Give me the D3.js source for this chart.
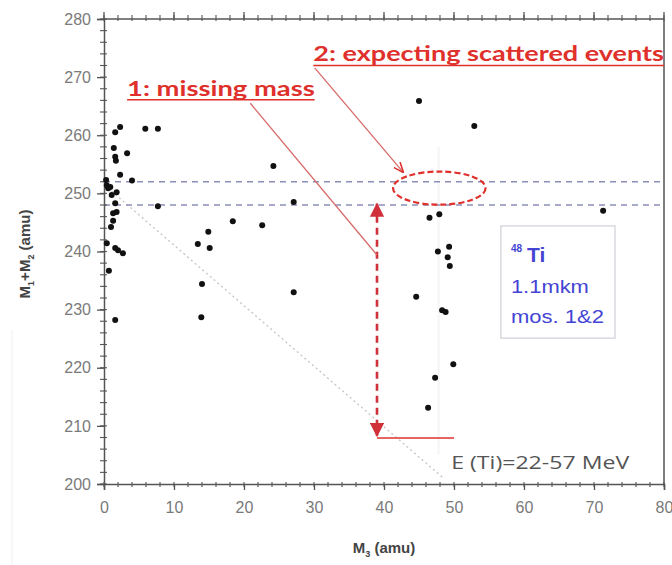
<!DOCTYPE html>
<html><head><meta charset="utf-8">
<script src="https://cdn.jsdelivr.net/npm/d3@7"></script>
<style>
html,body{margin:0;padding:0;background:#fff;}
svg{display:block;}
</style></head>
<body>
<svg id="c" width="672" height="565"></svg>
<script>
// ---- data ----
const m3 = [1.6,2.3,5.9,7.7,1.4,1.6,1.7,3.3,2.3,4.0,0.4,0.6,1.8,1.1,1.6,7.7,1.8,1.3,1.3,1.0,0.4,1.6,2.0,2.7,0.7,1.6,0.3,0.9,
  24.2,27.1,18.4,22.6,14.9,13.4,15.1,14.0,27.1,13.9,
  45.0,52.9,46.5,47.9,71.3,47.7,49.3,49.1,49.4,44.6,48.3,48.8,49.9,47.3,46.3];
const msum = [260.5,261.4,261.1,261.1,257.8,256.3,255.6,256.9,253.2,252.2,251.4,250.9,250.2,249.7,248.3,247.8,246.8,246.6,245.3,244.2,241.4,240.6,240.2,239.7,236.7,228.2,252.3,251.1,
  254.7,248.5,245.2,244.5,243.4,241.3,240.6,234.4,233.0,228.7,
  265.9,261.6,245.8,246.4,247.0,240.0,240.8,239.0,237.5,232.2,229.9,229.6,220.6,218.3,213.1];
const xTicks = [0,10,20,30,40,50,60,70,80];
const yTicks = [200,210,220,230,240,250,260,270,280];
const bandLines = [248,252];
const kinLine = [[0,251.5],[48.5,201]];

const svg = d3.select("#c");
const x = d3.scaleLinear().domain([0,80]).range([104,664]);
const y = d3.scaleLinear().domain([200,280]).range([484,19]);

// faint frame line at the left
svg.append("line").attr("x1",12).attr("x2",12).attr("y1",330).attr("y2",565)
  .attr("stroke","#f0f0f0").attr("stroke-width",1);

// kinematic dotted line
svg.append("line")
  .attr("x1",x(kinLine[0][0])).attr("y1",y(kinLine[0][1]))
  .attr("x2",x(kinLine[1][0])).attr("y2",y(kinLine[1][1]))
  .attr("stroke","#c4c4c4").attr("stroke-width",1.3).attr("stroke-dasharray","2,3");

// faint vertical guide
svg.append("line").attr("x1",x(47.8)).attr("x2",x(47.8)).attr("y1",y(258)).attr("y2",y(205))
  .attr("stroke","#f5f5f5").attr("stroke-width",2);

// dashed horizontal band lines
svg.selectAll("line.band").data(bandLines).join("line").attr("class","band")
  .attr("x1",x(0)).attr("x2",x(79.5)).attr("y1",d=>y(d)).attr("y2",d=>y(d))
  .attr("stroke","#8a8fb8").attr("stroke-width",1.3).attr("stroke-dasharray","6,5");

// axes frame
const axCol = "#555";
svg.append("line").attr("x1",x(0)).attr("x2",x(80)).attr("y1",y(280)).attr("y2",y(280)).attr("stroke",axCol).attr("stroke-width",1.5);
svg.append("line").attr("x1",x(80)).attr("x2",x(80)).attr("y1",y(280)).attr("y2",y(200)).attr("stroke",axCol).attr("stroke-width",1.5);

const xMinor = d3.range(0,80.1,2);
const yMinor = d3.range(200,280.1,2);

// bottom axis
const gx = svg.append("g").attr("transform",`translate(0,${y(200)})`)
  .call(d3.axisBottom(x).tickValues(xTicks).tickSize(6).tickPadding(12).tickFormat(d3.format("d")));
// left axis
const gy = svg.append("g").attr("transform",`translate(${x(0)},0)`)
  .call(d3.axisLeft(y).tickValues(yTicks).tickSize(7).tickPadding(6).tickFormat(d3.format("d")));
[gx,gy].forEach(g=>{
  g.select(".domain").attr("stroke",axCol).attr("stroke-width",1.5);
  g.selectAll(".tick line").attr("stroke",axCol).attr("stroke-width",1.3);
  g.selectAll(".tick text").attr("fill","#7a7a7a").attr("font-family","Liberation Sans, Arial, sans-serif").attr("font-size",16);
});
// minor ticks
svg.append("g").selectAll("line").data(xMinor).join("line")
  .attr("x1",d=>x(d)).attr("x2",d=>x(d)).attr("y1",y(200)-2).attr("y2",y(200)+3)
  .attr("stroke",axCol).attr("stroke-width",1.1);
svg.append("g").selectAll("line").data(xMinor).join("line")
  .attr("x1",d=>x(d)).attr("x2",d=>x(d)).attr("y1",y(280)-4).attr("y2",y(280)+2)
  .attr("stroke",axCol).attr("stroke-width",1.1);
svg.append("g").selectAll("line").data(xTicks).join("line")
  .attr("x1",d=>x(d)).attr("x2",d=>x(d)).attr("y1",y(280)-7).attr("y2",y(280))
  .attr("stroke",axCol).attr("stroke-width",1.3);
svg.append("g").selectAll("line").data(yMinor).join("line")
  .attr("x1",x(0)-4).attr("x2",x(0)+3).attr("y1",d=>y(d)).attr("y2",d=>y(d))
  .attr("stroke",axCol).attr("stroke-width",1.1);

// axis titles
svg.append("text").attr("x",(x(0)+x(80))/2).attr("y",553).attr("text-anchor","middle")
  .attr("font-family","Liberation Sans, Arial, sans-serif").attr("font-weight","bold").attr("font-size",15).attr("fill","#444")
  .html('M<tspan font-size="9" dy="4">3</tspan><tspan dy="-4"> (amu)</tspan>');
svg.append("text").attr("transform","translate(30,254) rotate(-90)").attr("text-anchor","middle")
  .attr("font-family","Liberation Sans, Arial, sans-serif").attr("font-weight","bold").attr("font-size",15).attr("fill","#444")
  .html('M<tspan font-size="9" dy="4">1</tspan><tspan dy="-4">+M</tspan><tspan font-size="9" dy="4">2</tspan><tspan dy="-4"> (amu)</tspan>');

// data points
svg.append("g").selectAll("circle").data(m3.map((v,i)=>[v,msum[i]])).join("circle")
  .attr("cx",d=>x(d[0])).attr("cy",d=>y(d[1])).attr("r",3).attr("fill","#111");

// ---- annotations ----
const red = "#e0302c";
const defs = svg.append("defs");
defs.append("marker").attr("id","ah").attr("viewBox","0 0 10 10").attr("refX",9).attr("refY",5)
  .attr("markerWidth",5.5).attr("markerHeight",5.5).attr("orient","auto-start-reverse")
  .append("path").attr("d","M0,0 L10,5 L0,10 z").attr("fill","#d0303a");
defs.append("marker").attr("id","ah2").attr("viewBox","0 0 10 10").attr("refX",9).attr("refY",5)
  .attr("markerWidth",8).attr("markerHeight",8).attr("orient","auto")
  .append("path").attr("d","M0,1 L10,5 L0,9").attr("fill","none").attr("stroke",red).attr("stroke-width",1.5);

// missing mass arrow
svg.append("line").attr("x1",x(39)).attr("x2",x(39)).attr("y1",y(248.2)).attr("y2",y(208.3))
  .attr("stroke","#d0303a").attr("stroke-width",2.6).attr("stroke-dasharray","7,5")
  .attr("marker-start","url(#ah)").attr("marker-end","url(#ah)");
svg.append("line").attr("x1",x(39)).attr("x2",x(50)).attr("y1",y(207.9)).attr("y2",y(207.9))
  .attr("stroke",red).attr("stroke-width",1.5);

// ellipse
svg.append("ellipse").attr("cx",x(47.9)).attr("cy",y(250.9))
  .attr("rx",x(6.6)-x(0)).attr("ry",y(200)-y(202.85))
  .attr("fill","none").attr("stroke",red).attr("stroke-width",2.2).attr("stroke-dasharray","6,3");

// leader lines
svg.append("line").attr("x1",x(20.9)).attr("y1",y(265.5)).attr("x2",x(39)).attr("y2",y(239.4))
  .attr("stroke","#d86a6a").attr("stroke-width",1.3);
svg.append("line").attr("x1",x(30.1)).attr("y1",y(271.6)).attr("x2",x(42.7)).attr("y2",y(253.7))
  .attr("stroke","#d86a6a").attr("stroke-width",1.3).attr("marker-end","url(#ah2)");

// red labels
function redLabel(txt, x0, x1, base){
  svg.append("text").attr("x",x0).attr("y",base).text(txt)
    .attr("font-family","Lato, Open Sans, sans-serif").attr("font-weight","bold").attr("font-size",21)
    .attr("fill",red).attr("textLength",x1-x0).attr("lengthAdjust","spacingAndGlyphs");
  svg.append("line").attr("x1",x0).attr("x2",x1).attr("y1",base+4).attr("y2",base+4)
    .attr("stroke",red).attr("stroke-width",1.5);
}
redLabel("1: missing mass", x(3.3), x(30.1), y(266.8));
redLabel("2: expecting scattered events", x(29.9), x(80), y(272.7));

// energy label
svg.append("text").attr("x",x(49.6)).attr("y",y(202.5)).text("E (Ti)=22-57 MeV")
  .attr("font-family","Open Sans, Liberation Sans, sans-serif").attr("font-size",19).attr("fill","#555")
  .attr("textLength",178).attr("lengthAdjust","spacingAndGlyphs");

// legend box
const bx0 = x(56.7), bx1 = x(73), by0 = y(244.4), by1 = y(225.1);
svg.append("rect").attr("x",bx0).attr("y",by0).attr("width",bx1-bx0).attr("height",by1-by0)
  .attr("fill","#fff").attr("stroke","#cfcfd8").attr("stroke-width",1.2);
const blue = "#4444d4";
const lt = svg.append("g").attr("font-family","Liberation Sans, Arial, sans-serif").attr("fill",blue).attr("font-weight","bold");
lt.append("text").attr("x",bx0+10).attr("y",by0+36).attr("font-size",21)
  .html('<tspan font-size="10" dy="-10">48</tspan><tspan dx="5" dy="10">Ti</tspan>');
lt.append("text").attr("x",bx0+10).attr("y",by0+67).attr("font-size",19).attr("font-weight","normal").text("1.1mkm")
  .attr("textLength",78).attr("lengthAdjust","spacingAndGlyphs");
lt.append("text").attr("x",bx0+10).attr("y",by0+97).attr("font-size",19).attr("font-weight","normal").text("mos. 1&2")
  .attr("textLength",93).attr("lengthAdjust","spacingAndGlyphs");
</script>
</body></html>
